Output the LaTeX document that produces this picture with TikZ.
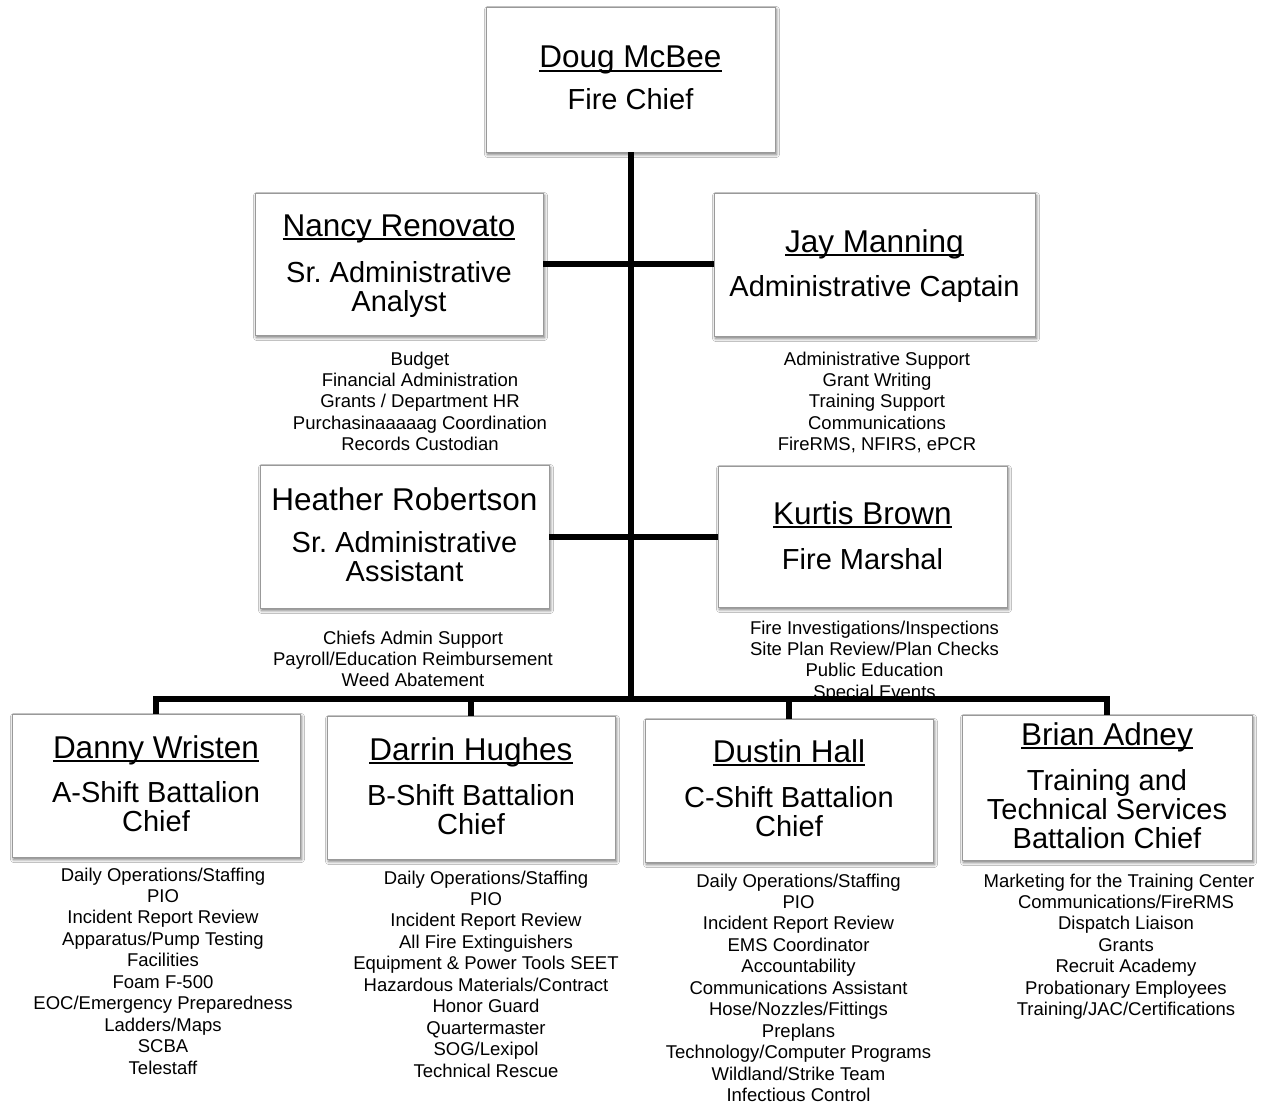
\documentclass[tikz,border=0pt]{standalone}
\usepackage{fontspec}
\setmainfont{Liberation Sans}
\usetikzlibrary{shadows.blur}
\frenchspacing
\newsavebox\nmbox
\newcommand\nmul[1]{\sbox\nmbox{#1}\rlap{\rule[-4pt]{\wd\nmbox}{2pt}}\usebox\nmbox}
\newcommand\orgbox[5]{\node[orgbox, minimum width={#4-#2}, minimum height={#5-#3}] (#1) at ({(#2+#4)/2},{(#3+#5)/2}) {};}
\tikzset{
  orgbox/.style={draw=black!40, line width=0.8pt, fill=white, rectangle, inner sep=0pt,
    blur shadow={shadow xshift=1.5pt, shadow yshift=-2.5pt, shadow blur radius=3pt, shadow opacity=55}},
  nametext/.style={anchor=base, font=\fontsize{31.5}{36}\selectfont\frenchspacing, inner sep=0pt},
  titletext/.style={anchor=base, font=\fontsize{29}{30}\selectfont\frenchspacing, inner sep=0pt},
  listtext/.style={anchor=base, font=\fontsize{18.5}{21.5}\selectfont\frenchspacing, inner sep=0pt},
  conn/.style={line width=6pt, black, line join=miter},
}
\begin{document}
\begin{tikzpicture}[x=1pt, y=-1pt]
\fill[white] (0,0) rectangle (1267,1105);
\useasboundingbox (0,0) rectangle (1267,1105);

% boxes
\orgbox{doug}{486}{7}{775}{152}
\orgbox{nancy}{255}{193}{543}{335}
\orgbox{jay}{714}{193}{1035}{336}
\orgbox{heather}{260}{465}{549}{608}
\orgbox{kurtis}{718}{466}{1007}{607}
\orgbox{danny}{12}{714}{300}{857}
\orgbox{darrin}{327}{716}{615}{859}
\orgbox{dustin}{645}{719}{933}{862}
\orgbox{brian}{962}{715}{1252}{860}

% box texts
\node[nametext] (doug-n) at (630.5,68) {\nmul{Doug McBee}};
\node[titletext] (doug-t1) at (630.5,110) {Fire Chief};

\node[nametext] (nancy-n) at (399,236) {\nmul{Nancy Renovato}};
\node[titletext] (nancy-t1) at (399,282) {Sr.\ Administrative};
\node[titletext] (nancy-t2) at (399,311) {Analyst};

\node[nametext] (jay-n) at (874.5,252) {\nmul{Jay Manning}};
\node[titletext] (jay-t1) at (874.5,296) {Administrative Captain};

\node[nametext] (heather-n) at (404.5,510) {Heather Robertson};
\node[titletext] (heather-t1) at (404.5,552) {Sr.\ Administrative};
\node[titletext] (heather-t2) at (404.5,581) {Assistant};

\node[nametext] (kurtis-n) at (862.5,524) {\nmul{Kurtis Brown}};
\node[titletext] (kurtis-t1) at (862.5,569) {Fire Marshal};

\node[nametext] (danny-n) at (156,758) {\nmul{Danny Wristen}};
\node[titletext] (danny-t1) at (156,802) {A-Shift Battalion};
\node[titletext] (danny-t2) at (156,831) {Chief};

\node[nametext] (darrin-n) at (471,760) {\nmul{Darrin Hughes}};
\node[titletext] (darrin-t1) at (471,805) {B-Shift Battalion};
\node[titletext] (darrin-t2) at (471,834) {Chief};

\node[nametext] (dustin-n) at (789,762) {\nmul{Dustin Hall}};
\node[titletext] (dustin-t1) at (789,807) {C-Shift Battalion};
\node[titletext] (dustin-t2) at (789,836) {Chief};

\node[nametext] (brian-n) at (1107,745) {\nmul{Brian Adney}};
\node[titletext] (brian-t1) at (1107,790) {Training and};
\node[titletext] (brian-t2) at (1107,819) {Technical Services};
\node[titletext] (brian-t3) at (1107,848) {Battalion Chief};

% lists
\foreach \t [count=\i from 0] in {Budget, Financial Administration, Grants / Department HR, Purchasinaaaaag Coordination, Records Custodian}
  \node[listtext] (nancy-l\i) at (420, 365+\i*21.45) {\t};
\foreach \t [count=\i from 0] in {Administrative Support, Grant Writing, Training Support, Communications, {FireRMS, NFIRS, ePCR}}
  \node[listtext] (jay-l\i) at (877, 365+\i*21.45) {\t};
\foreach \t [count=\i from 0] in {Chiefs Admin Support, Payroll/Education Reimbursement, Weed Abatement}
  \node[listtext] (heather-l\i) at (413, 644+\i*21.45) {\t};
\foreach \t [count=\i from 0] in {Fire Investigations/Inspections, Site Plan Review/Plan Checks, Public Education, Special Events}
  \node[listtext] (kurtis-l\i) at (874.5, 634+\i*21.45) {\t};
\foreach \t [count=\i from 0] in {Daily Operations/Staffing, PIO, Incident Report Review, Apparatus/Pump Testing, Facilities, Foam F-500, EOC/Emergency Preparedness, Ladders/Maps, SCBA, Telestaff}
  \node[listtext] (danny-l\i) at (163, 881+\i*21.45) {\t};
\foreach \t [count=\i from 0] in {Daily Operations/Staffing, PIO, Incident Report Review, All Fire Extinguishers, Equipment \& Power Tools SEET, Hazardous Materials/Contract, Honor Guard, Quartermaster, SOG/Lexipol, Technical Rescue}
  \node[listtext] (darrin-l\i) at (486, 884+\i*21.45) {\t};
\foreach \t [count=\i from 0] in {Daily Operations/Staffing, PIO, Incident Report Review, EMS Coordinator, Accountability, Communications Assistant, Hose/Nozzles/Fittings, Preplans, Technology/Computer Programs, Wildland/Strike Team, Infectious Control}
  \node[listtext] (dustin-l\i) at (798.5, 887+\i*21.45) {\t};
\node[listtext] (brian-l0) at (1119, 887) {Marketing for the Training Center};
\foreach \t [count=\i from 1] in {Communications/FireRMS, Dispatch Liaison, Grants, Recruit Academy, Probationary Employees, Training/JAC/Certifications}
  \node[listtext] (brian-l\i) at (1126, 887+\i*21.45) {\t};

% connectors
\coordinate (bus) at (630.5,699);
\draw[conn] (doug.south) -- (doug.south |- bus);
\draw[conn] (nancy.east) -- (nancy.east -| jay.west);
\draw[conn] (heather.east) -- (heather.east -| kurtis.west);
\draw[conn] (danny.north) -- (danny.north |- bus) -- (brian.north |- bus) -- (brian.north);
\draw[conn] (darrin.north) -- (darrin.north |- bus);
\draw[conn] (dustin.north) -- (dustin.north |- bus);
\end{tikzpicture}
\end{document}
